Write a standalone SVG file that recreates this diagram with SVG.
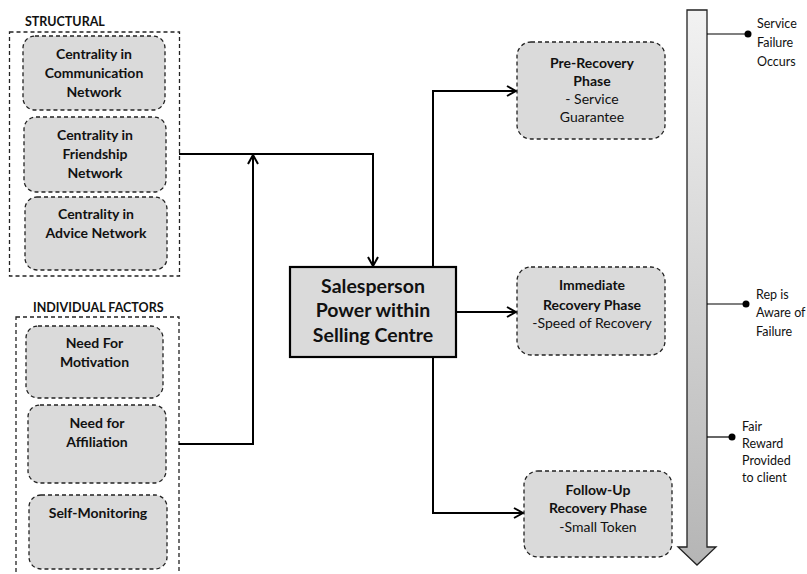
<svg xmlns="http://www.w3.org/2000/svg" width="807" height="574" viewBox="0 0 807 574">
  <defs>
    <marker id="open-arrow" viewBox="0 0 12 12" refX="11" refY="6" markerWidth="12" markerHeight="12" markerUnits="userSpaceOnUse" orient="auto">
      <polyline points="2,1 11,6 2,11" fill="none" stroke="#000" stroke-width="2"/>
    </marker>
    <linearGradient id="time-grad" x1="0" y1="0" x2="0" y2="1">
      <stop offset="0" stop-color="#f2f2f2"/>
      <stop offset="1" stop-color="#b5b5b5"/>
    </linearGradient>
    <style>
      text { font-family: Lato, "Open Sans", "Liberation Sans", sans-serif; fill: #111; }
      .group-frame { fill: none; stroke: #222; stroke-width: 1.3; stroke-dasharray: 4 3; }
      .factor { fill: #dadada; stroke: #222; stroke-width: 1.3; stroke-dasharray: 4 3; }
      .factor-text { font-size: 14px; font-weight: bold; text-anchor: middle; }
      .group-label { font-size: 12.5px; font-weight: bold; }
      .core { fill: #dadada; stroke: #000; stroke-width: 2.2; }
      .core-text { font-size: 19.5px; font-weight: bold; text-anchor: middle; }
      .phase-title { font-size: 14px; font-weight: bold; text-anchor: middle; }
      .phase-note { font-size: 14px; text-anchor: middle; }
      .link { fill: none; stroke: #000; stroke-width: 2; }
      .tick { stroke: #000; stroke-width: 1.2; }
      .event { font-size: 12.5px; }
    </style>
  </defs>

  <!-- Structural factors -->
  <g id="structural">
    <text class="group-label" x="25" y="26">STRUCTURAL</text>
    <rect class="group-frame" x="9.5" y="32" width="170" height="244"/>
  </g>
  <g id="communication">
    <rect class="factor" x="23" y="36" width="142" height="74" rx="12"/>
    <text class="factor-text" x="94" y="59">Centrality in</text>
    <text class="factor-text" x="94" y="78">Communication</text>
    <text class="factor-text" x="94" y="97">Network</text>
  </g>
  <g id="friendship">
    <rect class="factor" x="24" y="117" width="142" height="75" rx="12"/>
    <text class="factor-text" x="95" y="140">Centrality in</text>
    <text class="factor-text" x="95" y="159">Friendship</text>
    <text class="factor-text" x="95" y="178">Network</text>
  </g>
  <g id="advice">
    <rect class="factor" x="25" y="197" width="142" height="73" rx="12"/>
    <text class="factor-text" x="96" y="219">Centrality in</text>
    <text class="factor-text" x="96" y="238">Advice Network</text>
  </g>

  <!-- Individual factors -->
  <g id="individual">
    <text class="group-label" x="33" y="312">INDIVIDUAL FACTORS</text>
    <rect class="group-frame" x="16" y="317" width="163" height="262"/>
  </g>
  <g id="motivation">
    <rect class="factor" x="26" y="326" width="137" height="72" rx="12"/>
    <text class="factor-text" x="94.5" y="348">Need For</text>
    <text class="factor-text" x="94.5" y="367">Motivation</text>
  </g>
  <g id="affiliation">
    <rect class="factor" x="28" y="405" width="138" height="78" rx="12"/>
    <text class="factor-text" x="97" y="428">Need for</text>
    <text class="factor-text" x="97" y="447">Affiliation</text>
  </g>
  <g id="self-monitoring">
    <rect class="factor" x="29" y="495" width="138" height="74" rx="12"/>
    <text class="factor-text" x="98" y="518">Self-Monitoring</text>
  </g>

  <!-- Core construct -->
  <g id="salesperson-power">
    <rect class="core" x="290" y="267" width="166" height="90"/>
    <text class="core-text" x="373" y="293">Salesperson</text>
    <text class="core-text" x="373" y="317">Power within</text>
    <text class="core-text" x="373" y="342">Selling Centre</text>
  </g>

  <!-- Recovery phases -->
  <g id="pre-recovery">
    <rect class="factor" x="517" y="42" width="148" height="97" rx="14"/>
    <text class="phase-title" x="592" y="68">Pre-Recovery</text>
    <text class="phase-title" x="592" y="86">Phase</text>
    <text class="phase-note" x="592" y="104">- Service</text>
    <text class="phase-note" x="592" y="122">Guarantee</text>
  </g>
  <g id="immediate-recovery">
    <rect class="factor" x="517" y="267" width="148" height="88" rx="14"/>
    <text class="phase-title" x="592" y="290">Immediate</text>
    <text class="phase-title" x="592" y="310">Recovery Phase</text>
    <text class="phase-note" x="592" y="328">-Speed of Recovery</text>
  </g>
  <g id="follow-up-recovery">
    <rect class="factor" x="524" y="471" width="148" height="86" rx="14"/>
    <text class="phase-title" x="598" y="495">Follow-Up</text>
    <text class="phase-title" x="598" y="513">Recovery Phase</text>
    <text class="phase-note" x="598" y="532">-Small Token</text>
  </g>

  <!-- Timeline -->
  <g id="timeline">
    <path d="M687,10 H707 V547 H716 L697,565 L678,547 H687 Z" fill="url(#time-grad)" stroke="#222" stroke-width="1.3"/>
    <line class="tick" x1="707" y1="34" x2="748" y2="34"/>
    <circle cx="748" cy="34" r="3.5" fill="#000"/>
    <text class="event" x="757" y="28">Service</text>
    <text class="event" x="757" y="47">Failure</text>
    <text class="event" x="757" y="66">Occurs</text>
    <line class="tick" x1="707" y1="304" x2="746" y2="304"/>
    <circle cx="746" cy="304" r="3.5" fill="#000"/>
    <text class="event" x="756" y="299">Rep is</text>
    <text class="event" x="756" y="317">Aware of</text>
    <text class="event" x="756" y="336">Failure</text>
    <line class="tick" x1="707" y1="437" x2="732" y2="437"/>
    <circle cx="732" cy="437" r="3.5" fill="#000"/>
    <text class="event" x="742" y="431">Fair</text>
    <text class="event" x="742" y="448">Reward</text>
    <text class="event" x="742" y="465">Provided</text>
    <text class="event" x="742" y="482">to client</text>
  </g>

  <!-- Connectors -->
  <g id="connectors">
    <polyline class="link" points="179,154 373,154 373,266" marker-end="url(#open-arrow)"/>
    <polyline class="link" points="179,444 253,444 253,155" marker-end="url(#open-arrow)"/>
    <polyline class="link" points="433,267 433,91 516,91" marker-end="url(#open-arrow)"/>
    <line class="link" x1="456" y1="312" x2="516" y2="312" marker-end="url(#open-arrow)"/>
    <polyline class="link" points="433,357 433,513 523,513" marker-end="url(#open-arrow)"/>
  </g>
</svg>
